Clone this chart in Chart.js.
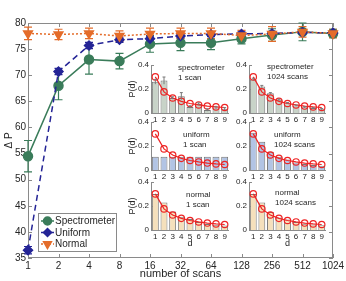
<!DOCTYPE html>
<html><head><meta charset="utf-8">
<script src="https://cdn.jsdelivr.net/npm/chart.js@4.4.1/dist/chart.umd.min.js"></script>
<style>
html,body{margin:0;padding:0;background:#fff;}
#wrap{position:relative;width:346px;height:281px;overflow:hidden;}
canvas{position:absolute;}
</style></head><body>
<div id="wrap"><canvas id="main" width="346" height="281" style="left:0;top:0;width:346px;height:281px"></canvas></div>
<script>
// ---------- data ----------
const scans = [1, 2, 4, 8, 16, 32, 64, 128, 256, 512, 1024];
const specMean = [54.5, 68, 73, 72.7, 76, 76.2, 76.2, 77, 77.7, 78.3, 78];
const specErr  = [3, 2.7, 2.8, 1.5, 1.6, 1.5, 1.3, 1, 1.2, 1.7, 0.8];
const uniMean  = [36.5, 70.7, 75.7, 76.8, 77, 77.5, 77.8, 77.9, 78, 78.2, 78.1];
const uniErr   = [0.7, 0.6, 0.6, 0.5, 0.5, 0.4, 0.4, 0.4, 0.4, 0.4, 0.3];
const normMean = [78, 77.8, 78, 77.5, 77.9, 78, 78, 77.6, 77.9, 78.3, 78];
const normErr  = [1.2, 1, 1, 1, 1.1, 1, 1, 1, 1.4, 1, 0.8];
const yTicks = [35, 40, 45, 50, 55, 60, 65, 70, 75, 80];

const digits = ['1','2','3','4','5','6','7','8','9'];
const benford = [0.301, 0.176, 0.125, 0.097, 0.079, 0.067, 0.058, 0.051, 0.046];
const spec1      = [0.26, 0.27, 0.125, 0.14, 0.05, 0.075, 0.025, 0.045, 0.035];
const spec1Err   = [0.02, 0.03, 0.01, 0.03, 0.01, 0.01, 0.01, 0.01, 0.01];
const spec1024   = [0.28, 0.22, 0.165, 0.11, 0.082, 0.062, 0.048, 0.042, 0.032];
const spec1024Err= [0.01, 0.01, 0.005, 0.005, 0.005, 0.005, 0.005, 0.005, 0.005];
const uni1       = [0.111, 0.111, 0.111, 0.111, 0.111, 0.111, 0.111, 0.111, 0.111];
const uni1024    = [0.31, 0.235, 0.152, 0.11, 0.088, 0.063, 0.05, 0.041, 0.036];
const norm1      = [0.30, 0.23, 0.155, 0.11, 0.092, 0.066, 0.05, 0.043, 0.037];
const norm1024   = [0.30, 0.23, 0.15, 0.105, 0.088, 0.066, 0.052, 0.045, 0.04];
const insetTicks = [0, 0.2, 0.4];
const insetTickLabels = ['0', '0.2', '0.4'];

// ---------- styles ----------
const GREEN='rgb(58,124,90)', BLUE='rgb(36,36,150)', ORANGE='rgb(228,108,42)', RED='rgb(238,36,36)';
const TEXT='#262626', AXIS='#8a8a8a';
const FF='"Liberation Sans", Arial, Helvetica, sans-serif';
const BAR_SPEC='rgb(200,211,200)', BAR_UNI='rgb(178,196,228)', BAR_NORM='rgb(245,224,188)';

// ---------- main chart ----------
const errs = [specErr, uniErr, normErr];
const errPlugin = {
  id:'err',
  beforeDatasetsDraw(chart){
    const ctx=chart.ctx, y=chart.scales.y;
    ctx.save();
    chart.data.datasets.forEach((ds,i)=>{
      const meta=chart.getDatasetMeta(i);
      ctx.strokeStyle=ds.borderColor; ctx.lineWidth=1.2; ctx.setLineDash([]);
      meta.data.forEach((pt,j)=>{
        const v=ds.data[j].y, e=errs[i][j];
        const y1=y.getPixelForValue(v+e), y2=y.getPixelForValue(v-e), x=pt.x;
        ctx.beginPath();
        ctx.moveTo(x,y1);ctx.lineTo(x,y2);
        ctx.moveTo(x-4,y1);ctx.lineTo(x+4,y1);
        ctx.moveTo(x-4,y2);ctx.lineTo(x+4,y2);
        ctx.stroke();
      });
    });
    ctx.restore();
  }
};
const framePlugin = {
  id:'frame',
  beforeDatasetsDraw(chart){
    const {ctx, chartArea:a, scales:{x,y}} = chart;
    ctx.save();
    ctx.strokeStyle=AXIS; ctx.lineWidth=1;
    ctx.strokeRect(a.left+0.5,a.top+0.5,a.right-a.left-1,a.bottom-a.top-1);
    ctx.beginPath();
    x.ticks.forEach(t=>{const px=Math.round(x.getPixelForValue(t.value))+0.5;
      ctx.moveTo(px,a.bottom);ctx.lineTo(px,a.bottom-4);
      ctx.moveTo(px,a.top);ctx.lineTo(px,a.top+4);});
    y.ticks.forEach(t=>{const py=Math.round(y.getPixelForValue(t.value))+0.5;
      ctx.moveTo(a.left,py);ctx.lineTo(a.left+4,py);
      ctx.moveTo(a.right,py);ctx.lineTo(a.right-4,py);});
    ctx.stroke();
    ctx.restore();
  }
};
const legendPlugin = {
  id:'mylegend',
  afterDraw(chart){
    const ctx=chart.ctx;
    ctx.save();
    const bx=38, by=213, bw=78, bh=38;
    ctx.fillStyle='#fff'; ctx.fillRect(bx,by,bw,bh);
    ctx.strokeStyle=AXIS; ctx.lineWidth=1; ctx.strokeRect(bx+0.5,by+0.5,bw,bh);
    chart.data.datasets.forEach((ds,i)=>{
      const yy=by+8+i*11.5;
      ctx.strokeStyle=ds.borderColor; ctx.lineWidth=ds.borderWidth; ctx.setLineDash(ds.borderDash||[]);
      ctx.beginPath(); ctx.moveTo(bx+3,yy); ctx.lineTo(bx+16,yy); ctx.stroke();
      ctx.setLineDash([]);
      ctx.fillStyle=ds.pointBackgroundColor; ctx.strokeStyle=ds.pointBorderColor;
      Chart.helpers.drawPoint(ctx,{pointStyle:ds.pointStyle,radius:ds.pointRadius-0.5,rotation:ds.pointRotation||0,borderWidth:1},bx+9.5,yy);
      ctx.fillStyle=TEXT; ctx.font='10px '+FF; ctx.textBaseline='middle'; ctx.textAlign='left';
      ctx.fillText(ds.label,bx+17,yy+0.5);
    });
    ctx.restore();
  }
};
function pts(m){return scans.map((s,i)=>({x:s,y:m[i]}));}
new Chart(document.getElementById('main'),{
  type:'line',
  data:{datasets:[
    {label:'Spectrometer',data:pts(specMean),borderColor:GREEN,backgroundColor:GREEN,borderWidth:1.5,
     pointStyle:'circle',pointRadius:4.5,pointBackgroundColor:GREEN,pointBorderColor:GREEN,clip:false,order:2},
    {label:'Uniform',data:pts(uniMean),borderColor:BLUE,backgroundColor:BLUE,borderWidth:1.5,borderDash:[6,4],
     pointStyle:'rectRot',pointRadius:4.5,pointBackgroundColor:BLUE,pointBorderColor:BLUE,clip:false,order:1},
    {label:'Normal',data:pts(normMean),borderColor:ORANGE,backgroundColor:ORANGE,borderWidth:1.5,borderDash:[2,2],
     pointStyle:'triangle',pointRotation:180,pointRadius:5,pointBackgroundColor:ORANGE,pointBorderColor:ORANGE,clip:false,order:0}
  ]},
  options:{
    responsive:false, animation:false, devicePixelRatio:1,
    layout:{padding:{left:0,right:13,top:23,bottom:0}},
    plugins:{legend:{display:false},tooltip:{enabled:false}},
    elements:{line:{tension:0}},
    scales:{
      x:{type:'logarithmic',min:1,max:1024,
        afterBuildTicks:s=>{s.ticks=scans.map(v=>({value:v}));},
        afterFit:s=>{s.height=23;s.paddingLeft=0;s.paddingRight=0;},
        ticks:{autoSkip:false,maxRotation:0,padding:2,color:TEXT,font:{family:FF,size:10},callback:v=>String(v)},
        grid:{display:false,drawTicks:false},border:{display:false},
        title:{display:true,text:'number of scans',color:TEXT,font:{family:FF,size:11},padding:{top:0,bottom:0}}},
      y:{type:'linear',min:35,max:80,
        afterBuildTicks:s=>{s.ticks=yTicks.map(v=>({value:v}));},
        afterFit:s=>{s.width=28;s.paddingTop=0;s.paddingBottom=0;},
        ticks:{padding:2,color:TEXT,font:{family:FF,size:10}},
        grid:{display:false,drawTicks:false},border:{display:false},
        title:{display:true,text:'Δ P',color:TEXT,font:{family:FF,size:10},padding:{top:3,bottom:0}}}
    }
  },
  plugins:[framePlugin,errPlugin,legendPlugin]
});

// ---------- insets ----------
const cols=[{left:120,width:115,yw:31},{left:226,width:106,yw:23}];
const rows=[{top:58,height:69,xh:14},{top:115,height:69,xh:14},{top:175,height:79,xh:24}];
const insets=[
  {vals:spec1,err:spec1Err,color:BAR_SPEC,text:['spectrometer','1 scan'],c:0,r:0,tx:178,ty:68},
  {vals:spec1024,err:spec1024Err,color:BAR_SPEC,text:['spectrometer','1024 scans'],c:1,r:0,tx:267,ty:67},
  {vals:uni1,err:null,color:BAR_UNI,text:['uniform','1 scan'],c:0,r:1,tx:183,ty:135},
  {vals:uni1024,err:null,color:BAR_UNI,text:['uniform','1024 scans'],c:1,r:1,tx:274,ty:135},
  {vals:norm1,err:null,color:BAR_NORM,text:['normal','1 scan'],c:0,r:2,tx:186,ty:195},
  {vals:norm1024,err:null,color:BAR_NORM,text:['normal','1024 scans'],c:1,r:2,tx:275,ty:193}
];
const wrap=document.getElementById('wrap');
insets.forEach((ins,k)=>{
  const col=cols[ins.c], row=rows[ins.r];
  const cv=document.createElement('canvas');
  cv.width=col.width; cv.height=row.height;
  cv.style.left=col.left+'px'; cv.style.top=row.top+'px';
  cv.style.width=col.width+'px'; cv.style.height=row.height+'px';
  wrap.appendChild(cv);
  const insetPlugin={
    id:'inset'+k,
    beforeDatasetsDraw(chart){
      const {ctx,chartArea:a,scales:{y}}=chart;
      ctx.save(); ctx.strokeStyle=AXIS; ctx.lineWidth=1;
      ctx.beginPath();
      ctx.moveTo(a.left+0.5,y.getPixelForValue(0.4)); ctx.lineTo(a.left+0.5,a.bottom+0.5); ctx.lineTo(a.right,a.bottom+0.5);
      insetTicks.forEach(v=>{const py=Math.round(y.getPixelForValue(v))+0.5; ctx.moveTo(a.left,py); ctx.lineTo(a.left+3,py);});
      ctx.stroke();
      ctx.fillStyle=TEXT; ctx.font='8px '+FF; ctx.textAlign='right'; ctx.textBaseline='middle';
      insetTicks.forEach((v,i)=>ctx.fillText(insetTickLabels[i],a.left-2,y.getPixelForValue(v)));
      if(ins.c===0){
        ctx.save(); ctx.font='9px '+FF; ctx.textAlign='center';
        ctx.translate(a.left-18,(a.top+a.bottom)/2); ctx.rotate(-Math.PI/2);
        ctx.fillText('P(d)',0,0); ctx.restore();
      }
      ctx.restore();
    },
    afterDatasetsDraw(chart){
      const {ctx,scales:{y}}=chart;
      ctx.save();
      if(ins.err){
        const meta=chart.getDatasetMeta(1);
        ctx.strokeStyle='#7a7a7a'; ctx.lineWidth=1;
        meta.data.forEach((b,j)=>{
          const y1=y.getPixelForValue(ins.vals[j]+ins.err[j]), y2=y.getPixelForValue(ins.vals[j]-ins.err[j]);
          ctx.beginPath(); ctx.moveTo(b.x,y1); ctx.lineTo(b.x,y2);
          ctx.moveTo(b.x-1.5,y1); ctx.lineTo(b.x+1.5,y1); ctx.stroke();
        });
      }
      ctx.restore();
    },
    afterDraw(chart){
      const ctx=chart.ctx;
      ctx.save(); ctx.fillStyle=TEXT; ctx.font='8px '+FF; ctx.textAlign='left'; ctx.textBaseline='middle';
      ins.text.forEach((t,i)=>ctx.fillText(t,ins.tx-col.left,ins.ty-row.top+i*9.5));
      ctx.restore();
    }
  };
  new Chart(cv,{
    data:{labels:digits,datasets:[
      {type:'line',data:benford,borderColor:RED,borderWidth:1.2,pointStyle:'circle',pointRadius:3.2,
       pointBackgroundColor:'rgba(255,255,255,0)',pointBorderColor:RED,pointBorderWidth:1.2,tension:0,clip:false,order:0},
      {type:'bar',data:ins.vals,backgroundColor:ins.color,borderColor:'#777',borderWidth:1,
       barPercentage:0.8,categoryPercentage:1,order:1}
    ]},
    options:{
      responsive:false,animation:false,devicePixelRatio:1,
      layout:{padding:{left:0,right:6,top:7,bottom:0}},
      plugins:{legend:{display:false},tooltip:{enabled:false}},
      scales:{
        x:{type:'category',offset:true,
          afterFit:s=>{s.height=row.xh;s.paddingLeft=0;s.paddingRight=0;},
          ticks:{autoSkip:false,maxRotation:0,padding:2,color:TEXT,font:{family:FF,size:8}},
          grid:{display:false,drawTicks:false},border:{display:false},
          title:{display:ins.r===2,text:'d',color:TEXT,font:{family:FF,size:9},padding:{top:0,bottom:5}}},
        y:{type:'linear',min:0,max:0.4,
          afterBuildTicks:s=>{s.ticks=insetTicks.map(v=>({value:v}));},
          afterFit:s=>{s.width=col.yw;s.paddingTop=0;s.paddingBottom=0;},
          ticks:{display:false},
          grid:{display:false,drawTicks:false},border:{display:false}}
      }
    },
    plugins:[insetPlugin]
  });
});
</script>
</body></html>
